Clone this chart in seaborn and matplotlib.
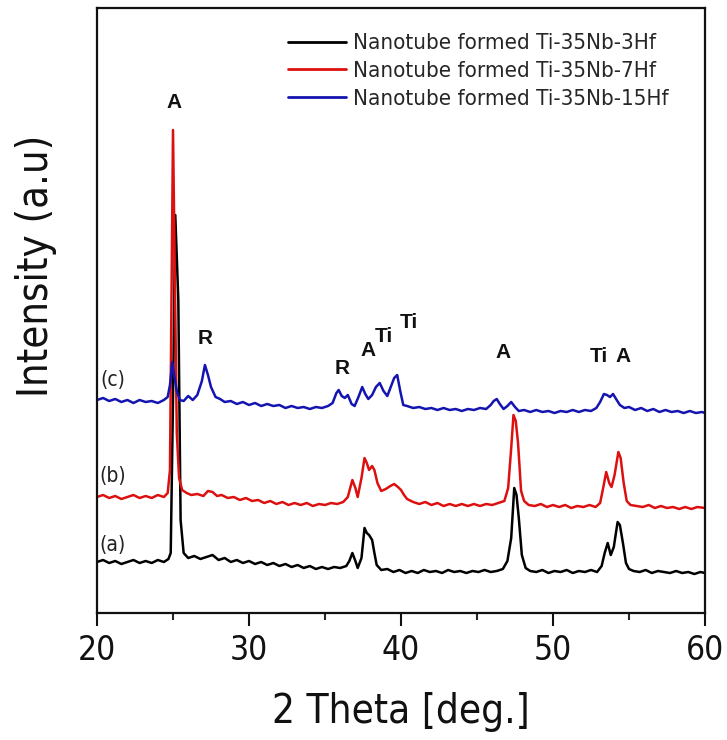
import matplotlib
matplotlib.use("Agg")
import matplotlib.pyplot as plt
from matplotlib.ticker import MultipleLocator
import seaborn as sns
import pandas as pd

# 2-theta positions (deg.) and intensities (a.u.) of each pattern
two_theta_a = [20, 20.4, 20.8, 21.2, 21.6, 22, 22.4, 22.8, 23.2, 23.6, 24, 24.4, 24.7, 24.85,
               25.0, 25.15, 25.35, 25.5, 25.7, 26.0, 26.4, 26.8, 27.2, 27.6, 28.0, 28.4,
               28.8, 29.2, 29.6, 30.0, 30.4, 30.8, 31.2, 31.6, 32.0, 32.4, 32.8, 33.2, 33.6,
               34.0, 34.4, 34.8, 35.2, 35.6, 36.0, 36.4, 36.6, 36.8, 37.0, 37.15, 37.4, 37.6,
               37.75, 37.9, 38.1, 38.25, 38.4, 38.7, 39.1, 39.5, 39.9, 40.3, 40.7, 41.1,
               41.5, 41.9, 42.3, 42.7, 43.1, 43.5, 43.9, 44.3, 44.7, 45.1, 45.5, 45.9, 46.3,
               46.7, 47.0, 47.25, 47.45, 47.6, 47.75, 47.95, 48.2, 48.5, 48.9, 49.3, 49.7,
               50.1, 50.5, 50.9, 51.3, 51.7, 52.1, 52.5, 52.9, 53.2, 53.4, 53.6, 53.8, 54.0,
               54.25, 54.4, 54.6, 54.8, 55.0, 55.3, 55.7, 56.1, 56.5, 56.9, 57.3, 57.7,
               58.1, 58.5, 58.9, 59.3, 59.7, 60]
intensity_a = [51, 53, 50, 52, 49, 51, 53, 50, 52, 50, 53, 51, 54, 60,
               213, 398, 313, 93, 60, 55, 57, 54, 56, 58, 53, 55,
               51, 53, 50, 52, 49, 51, 48, 50, 47, 49, 46, 48, 45,
               47, 44, 46, 44, 46, 45, 47, 52, 60, 52, 45, 55, 85,
               80, 78, 73, 60, 48, 43, 44, 41, 43, 40, 42, 40,
               43, 41, 42, 40, 43, 41, 42, 40, 42, 41, 43, 41, 42,
               44, 52, 75, 125, 118, 95, 58, 45, 42, 41, 43, 40,
               42, 41, 43, 40, 42, 41, 43, 41, 47, 60, 70, 58, 66,
               91, 88, 70, 50, 44, 42, 41, 43, 40, 42, 41, 40,
               42, 40, 41, 39, 41, 40]

two_theta_b = [20, 20.4, 20.8, 21.2, 21.6, 22, 22.4, 22.8, 23.2, 23.6, 24.0, 24.4, 24.65,
               24.8, 24.9, 25.0, 25.1, 25.25, 25.4, 25.6, 25.9, 26.2, 26.6, 27.0, 27.3,
               27.6, 27.9, 28.2, 28.6, 29.0, 29.4, 29.8, 30.2, 30.6, 31.0, 31.4, 31.8,
               32.2, 32.6, 33.0, 33.4, 33.8, 34.2, 34.6, 35.0, 35.4, 35.8, 36.2, 36.5,
               36.8, 37.0, 37.15, 37.4, 37.6, 37.75, 37.9, 38.1, 38.25, 38.45, 38.7, 39.0,
               39.3, 39.55, 39.8, 40.0, 40.2, 40.4, 40.8, 41.2, 41.6, 42.0, 42.4, 42.8,
               43.2, 43.6, 44.0, 44.4, 44.8, 45.2, 45.6, 46.0, 46.4, 46.8, 47.05, 47.25,
               47.4, 47.55, 47.7, 47.9, 48.1, 48.4, 48.8, 49.2, 49.6, 50.0, 50.4, 50.8,
               51.2, 51.6, 52.0, 52.4, 52.8, 53.1, 53.3, 53.5, 53.7, 53.85, 54.05, 54.3,
               54.45, 54.65, 54.85, 55.1, 55.5, 55.9, 56.3, 56.7, 57.1, 57.5, 57.9, 58.3,
               58.7, 59.1, 59.5, 60]
intensity_b = [116, 118, 115, 117, 114, 116, 118, 115, 117, 115, 118, 116, 120,
               143, 313, 483, 363, 180, 135, 123, 120, 118, 119, 117, 122,
               121, 117, 118, 115, 116, 113, 115, 112, 113, 110, 112, 109,
               111, 108, 110, 108, 110, 107, 109, 108, 110, 109, 111, 116,
               133, 125, 116, 135, 155, 150, 143, 147, 143, 130, 122, 124,
               127, 129, 126, 123, 118, 114, 111, 109, 111, 108, 110, 107,
               109, 107, 109, 107, 109, 107, 109, 108, 110, 112, 125, 165,
               198, 192, 170, 122, 112, 108, 107, 109, 106, 108, 106, 108,
               105, 107, 106, 108, 106, 110, 125, 141, 130, 126, 138, 161,
               155, 130, 112, 108, 107, 106, 108, 105, 107, 105, 106, 104,
               106, 104, 106, 105]

two_theta_c = [20, 20.4, 20.8, 21.2, 21.6, 22.0, 22.4, 22.8, 23.2, 23.6, 24.0, 24.4, 24.65,
               24.8, 24.95, 25.1, 25.25, 25.45, 25.7, 26.0, 26.3, 26.6, 26.9, 27.1, 27.3,
               27.5, 27.8, 28.1, 28.4, 28.8, 29.2, 29.6, 30.0, 30.4, 30.8, 31.2, 31.6,
               32.0, 32.4, 32.8, 33.2, 33.6, 34.0, 34.4, 34.8, 35.2, 35.5, 35.75, 35.9,
               36.1, 36.3, 36.5, 36.75, 36.95, 37.2, 37.45, 37.65, 37.85, 38.1, 38.35,
               38.6, 38.85, 39.1, 39.35, 39.55, 39.75, 39.95, 40.15, 40.4, 40.8, 41.2,
               41.6, 42.0, 42.4, 42.8, 43.2, 43.6, 44.0, 44.4, 44.8, 45.2, 45.6, 45.9,
               46.1, 46.3, 46.5, 46.75, 47.0, 47.25, 47.5, 47.75, 48.1, 48.5, 48.9, 49.3,
               49.7, 50.1, 50.5, 50.9, 51.3, 51.7, 52.1, 52.5, 52.85, 53.1, 53.35, 53.55,
               53.75, 53.95, 54.15, 54.4, 54.7, 55.0, 55.4, 55.8, 56.2, 56.6, 57.0, 57.4,
               57.8, 58.2, 58.6, 59.0, 59.4, 59.8, 60]
intensity_c = [213, 215, 212, 214, 211, 213, 210, 213, 211, 212, 210, 213, 216,
               228, 251, 236, 222, 213, 212, 217, 213, 218, 232, 248, 238,
               226, 216, 214, 211, 212, 209, 211, 208, 210, 207, 209, 207,
               208, 205, 207, 205, 206, 204, 206, 205, 207, 210, 220, 223,
               217, 215, 218, 209, 207, 216, 226, 219, 214, 218, 226,
               230, 222, 217, 227, 235, 238, 222, 208, 207, 205, 206,
               204, 205, 203, 205, 203, 204, 202, 204, 203, 205, 204, 208,
               212, 214, 209, 204, 207, 211, 206, 202, 203, 201, 203, 201,
               202, 200, 202, 201, 203, 201, 203, 202, 205, 211, 219, 218,
               216, 219, 214, 208, 205, 206, 203, 205, 202, 204, 201, 203,
               201, 202, 200, 202, 200, 201, 200]

series_names = ["Nanotube formed Ti-35Nb-3Hf",
                "Nanotube formed Ti-35Nb-7Hf",
                "Nanotube formed Ti-35Nb-15Hf"]
series_tags = ["(a)", "(b)", "(c)"]

# phase markers: A = anatase, R = rutile, Ti = titanium substrate
phase_labels = ["A", "R", "R", "A", "Ti", "Ti", "A", "Ti", "A"]
phase_x = [25.1, 27.1, 36.1, 37.8, 38.9, 40.5, 46.7, 53.0, 54.6]
phase_y = [510, 275, 245, 263, 276, 290, 260, 256, 256]

tag_x = [21.05, 21.05, 21.05]
tag_y = [68, 137, 233]

colors = ["#000000", "#dd1010", "#1414b0"]

frames = []
for name, xs, ys in zip(series_names,
                        [two_theta_a, two_theta_b, two_theta_c],
                        [intensity_a, intensity_b, intensity_c]):
    frames.append(pd.DataFrame({"two_theta": xs, "intensity": ys, "sample": name}))
df = pd.concat(frames, ignore_index=True)

sns.set_style("ticks")
plt.rcParams["font.family"] = ["DejaVu Sans"]
plt.rcParams["font.stretch"] = "condensed"

fig = plt.figure(figsize=(7.27, 7.40), dpi=100)
ax = fig.add_axes([97 / 727, (740 - 613) / 740, 608 / 727, 605 / 740])

for name, col in zip(series_names, colors):
    sub = df[df["sample"] == name]
    sns.lineplot(data=sub, x="two_theta", y="intensity", ax=ax, color=col,
                 linewidth=1.8, sort=False, estimator=None, label=name)

ax.set_xlim(20, 60)
ax.set_ylim(0, 605)
ax.xaxis.set_major_locator(MultipleLocator(10))
ax.xaxis.set_minor_locator(MultipleLocator(5))
ax.set_yticks([])
ax.tick_params(axis="x", which="major", direction="out", length=9, width=1.5,
               labelsize=24, pad=6, colors="#111111")
ax.tick_params(axis="x", which="minor", direction="out", length=5, width=1.5)
for sp in ax.spines.values():
    sp.set_linewidth(1.6)
    sp.set_color("#111111")
    sp.set_visible(True)

ax.set_xlabel("2 Theta [deg.]", fontsize=29, labelpad=18, color="#111111")
ax.set_ylabel("Intensity (a.u)", fontsize=30, color="#111111")
ax.yaxis.set_label_coords(-0.066, 0.574)

for t, x, y in zip(phase_labels, phase_x, phase_y):
    ax.text(x, y, t, ha="center", va="center", fontsize=15, fontweight="bold",
            family="Liberation Sans", fontstretch="normal", color="#111111")

for t, x, y in zip(series_tags, tag_x, tag_y):
    ax.text(x, y, t, ha="center", va="center", fontsize=15, color="#222222")

leg = ax.legend(loc="upper left", bbox_to_anchor=(0.314, 0.958), frameon=False,
                fontsize=16, handlelength=2.6, handletextpad=0.35, labelspacing=0.35,
                borderpad=0, borderaxespad=0)
for line in leg.get_lines():
    line.set_linewidth(2)

fig.savefig("out.png", dpi=100)
